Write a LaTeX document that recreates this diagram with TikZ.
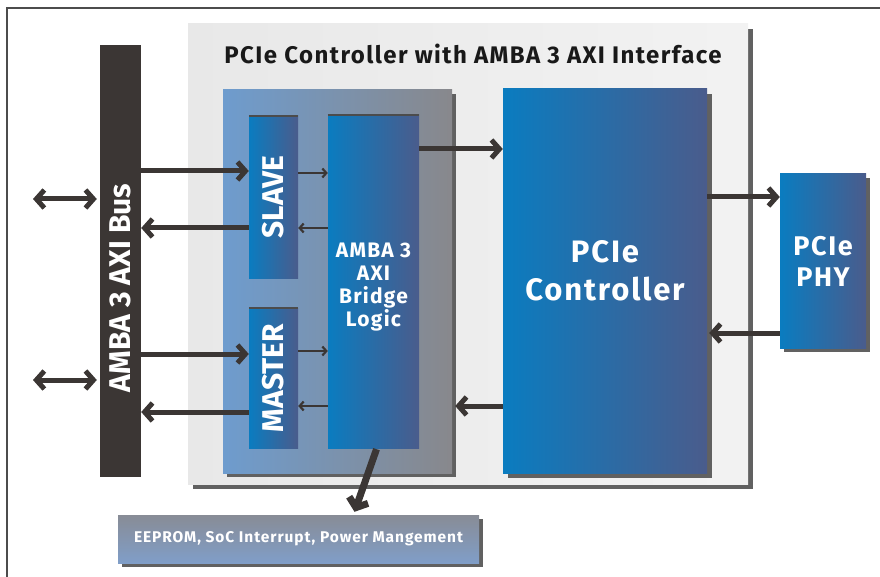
\documentclass[tikz,border=0pt]{standalone}
\usepackage{fontspec}
\setmainfont{Fira Sans}
\newfontfamily\widefont[LetterSpace=6]{Fira Sans}
\usetikzlibrary{positioning,arrows.meta,shadows}
\definecolor{busdark}{RGB}{59,54,52}
\definecolor{blueleft}{RGB}{10,124,192}
\definecolor{blueright}{RGB}{74,92,140}
\definecolor{innerblue}{RGB}{110,156,206}
\definecolor{innergray}{RGB}{136,136,140}
\definecolor{eepromtop}{RGB}{136,140,150}
\definecolor{eeprombot}{RGB}{128,158,200}
\colorlet{shadowgray}{black!62}
\colorlet{edgedark}{black!70}

\begin{document}
\begin{tikzpicture}[x=1pt,y=-1pt,every node/.style={inner sep=0pt},
    shadowed/.style={general shadow={fill=shadowgray,shadow xshift=#1,shadow yshift=-#1}},
    shadowed/.default=4pt,
    blockbox/.style={rectangle,left color=blueleft,right color=blueright,text=white,align=center},
    boxtext/.style={text=white,align=center},
    bigarrow/.style={-{Straight Barb[length=8pt,width=18pt]},line width=5pt,busdark},
    smallarrow/.style={-{Straight Barb[length=4pt,width=9pt]},line width=2.2pt,busdark}]
        \useasboundingbox (0,0) rectangle (880,577);
        \draw[line width=1.2pt,edgedark] (7,577) -- (7,8) -- (880,8);
        % grey panel and title
        \node[shadowed=5pt,left color=black!9,right color=black!5,minimum width=560pt,minimum height=460pt] (panel) at (468,254) {};
        \node[font=\widefont\bfseries\fontsize{24}{28}\selectfont,text=black!90] (title) at (473,54) {PCIe Controller with AMBA 3 AXI Interface};
        \node[shadowed,left color=innerblue,right color=innergray,minimum width=229pt,minimum height=383pt] (inner) at (337.5,281.5) {};
        % blocks
        \node[blockbox,minimum width=49pt,minimum height=162pt,font=\bfseries\fontsize{30}{32}\selectfont] (slave) at (273.5,197) {\rotatebox{90}{SLAVE}};
        \node[blockbox,minimum width=49pt,minimum height=140pt,font=\bfseries\fontsize{30}{32}\selectfont] (master) at (273.5,378) {\rotatebox{90}{MASTER}};
        \node[blockbox,minimum width=91pt,minimum height=333pt] (bridge) at (373.5,281.5) {};
        \node[boxtext,font=\widefont\bfseries\fontsize{21}{23}\selectfont] (bridgetext) at ([yshift=-6pt]bridge.center) {AMBA 3\\AXI\\Bridge\\Logic};
        \foreach \n in {slave,master,bridge}
          \draw[line width=1.5pt,edgedark] (\n.north west) -- (\n.north east);
        \node[blockbox,shadowed=5pt,minimum width=204pt,minimum height=384pt] (ctrl) at (605,281) {};
        \node[boxtext,font=\widefont\bfseries\fontsize{31}{38}\selectfont] (ctrltext) at ([yshift=10pt]ctrl.center) {PCIe\\Controller};
        \node[blockbox,shadowed,minimum width=86pt,minimum height=174pt,font=\widefont\bfseries\fontsize{27}{31}\selectfont] (phy) at (823,261) {PCIe\\PHY};
        \node[fill=busdark,minimum width=41pt,minimum height=432pt] (bus) at (120.5,261) {};
        \node[boxtext,font=\bfseries\fontsize{30}{32}\selectfont] (bustext) at ([yshift=-27pt]bus.center) {\rotatebox{90}{AMBA 3 AXI Bus}};
        \node[shadowed,top color=eepromtop,bottom color=eeprombot,text=white,minimum width=361pt,minimum height=48pt,font=\widefont\bfseries\fontsize{15.5}{18}\selectfont] (eeprom) at (298.5,539) {EEPROM, SoC Interrupt, Power Mangement};
        % bus side
        \coordinate (ext1) at (33,199);
        \coordinate (ext2) at (33,380);
        \draw[bigarrow,{Straight Barb[length=8pt,width=18pt]}-{Straight Barb[length=8pt,width=18pt]}] (ext1) -- ([xshift=-3pt]bus.west |- ext1);
        \draw[bigarrow,{Straight Barb[length=8pt,width=18pt]}-{Straight Barb[length=8pt,width=18pt]}] (ext2) -- ([xshift=-3pt]bus.west |- ext2);
        \draw[bigarrow] (bus.east |- 0,171) -- (slave.west |- 0,171);
        \draw[bigarrow] (slave.west |- 0,228) -- (bus.east |- 0,228);
        \draw[bigarrow] (bus.east |- 0,354) -- (master.west |- 0,354);
        \draw[bigarrow] (master.west |- 0,412) -- (bus.east |- 0,412);
        % inside the bridge
        \draw[smallarrow] (slave.east |- 0,173) -- (bridge.west |- 0,173);
        \draw[smallarrow] (bridge.west |- 0,228) -- (slave.east |- 0,228);
        \draw[smallarrow] (master.east |- 0,351) -- (bridge.west |- 0,351);
        \draw[smallarrow] (bridge.west |- 0,406) -- (master.east |- 0,406);
        % controller side
        \draw[bigarrow] (bridge.east |- 0,149) -- (ctrl.west |- 0,149);
        \draw[bigarrow] (ctrl.west |- 0,406) -- ([xshift=3pt]inner.east |- 0,406);
        \draw[bigarrow] (ctrl.east |- 0,197) -- (phy.west |- 0,197);
        \draw[bigarrow] (phy.west |- 0,333) -- ([xshift=2pt]ctrl.east |- 0,333);
        \draw[-{Straight Barb[length=8pt,width=20pt]},line width=7pt,busdark] ([xshift=3pt,yshift=-1pt]bridge.south) -- ([xshift=56pt,yshift=3pt]eeprom.north);
      \end{tikzpicture}
\end{document}
